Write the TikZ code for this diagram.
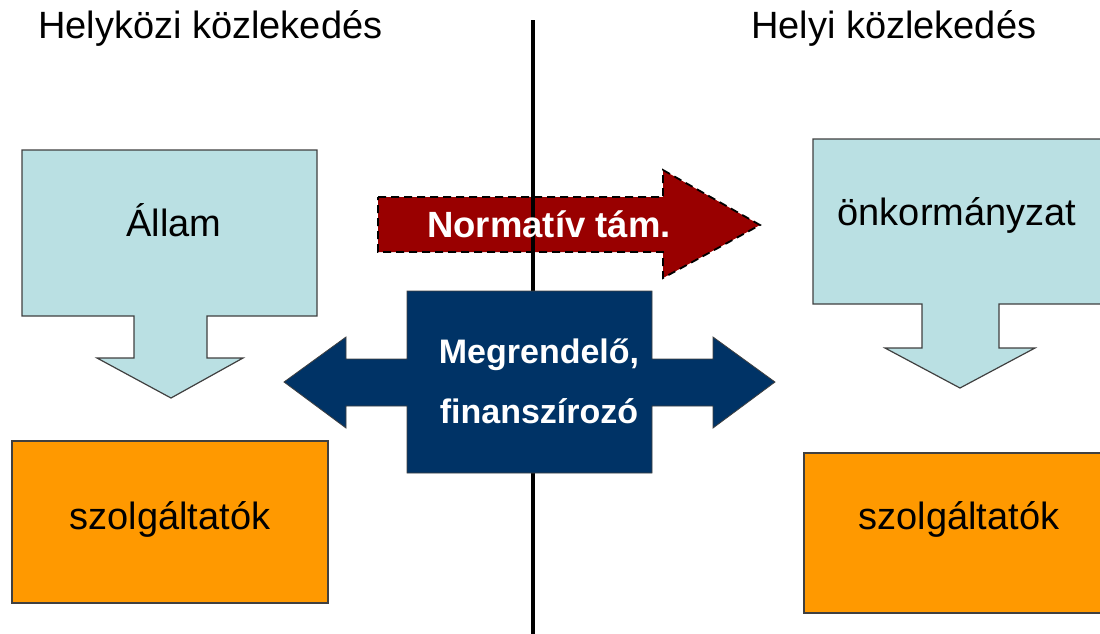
\documentclass[tikz,border=0pt]{standalone}
\usepackage{fontspec}
\setmainfont{Liberation Sans}
\definecolor{lightcyan}{RGB}{186,224,227}
\definecolor{orangebox}{RGB}{255,153,0}
\definecolor{darkred}{RGB}{153,0,0}
\definecolor{navy}{RGB}{0,51,102}
\definecolor{edgegray}{RGB}{64,64,64}
\tikzset{
  callout/.style={fill=lightcyan, draw=edgegray, line width=1.2pt},
  provbox/.style={fill=orangebox, draw=edgegray, line width=1.2pt},
  redarrow/.style={fill=darkred, draw=black, line width=1.8pt, dash pattern=on 8pt off 5pt},
  bluearrow/.style={fill=navy, draw=edgegray, line width=0.8pt},
  divider/.style={draw=black, line width=3.6pt},
  title/.style={anchor=base west, inner sep=0pt, font=\fontsize{38}{44}\selectfont},
  boxtext/.style={anchor=base, inner sep=0pt, font=\fontsize{38}{44}\selectfont},
  whitetext/.style={anchor=base, inner sep=0pt, text=white, font=\fontsize{34}{40}\selectfont\bfseries}
}
\begin{document}
\begin{tikzpicture}[x=1pt,y=-1pt]
\useasboundingbox (0,0) rectangle (1100,633);
\begin{scope}
\clip (0,0) rectangle (1100,633);
% left callout (Allam)
\draw[callout] (22,150) -- (317,150) -- (317,316) -- (207,316) -- (207,358) -- (243,358) -- (171,398) -- (97,358) -- (134,358) -- (134,316) -- (22,316) -- cycle;
% right callout (onkormanyzat)
\draw[callout] (813,139) -- (1112,139) -- (1112,304) -- (999,304) -- (999,348) -- (1035,348) -- (960,388) -- (885,348) -- (922,348) -- (922,304) -- (813,304) -- cycle;
% provider boxes
\draw[provbox] (12,441) rectangle (328,603);
\draw[provbox] (804,453) rectangle (1112,613);
% red arrow
\draw[redarrow] (378,197) -- (663,197) -- (663,170) -- (760,225) -- (663,278) -- (663,252) -- (378,252) -- cycle;
% divider line
\coordinate (lineTop) at (533,20);
\coordinate (lineBottom) at (533,640);
\draw[divider] (lineTop) -- (lineBottom);
% blue double arrow
\draw[bluearrow] (407,291) -- (652,291) -- (652,359) -- (713,359) -- (713,337) -- (775,382) -- (713,428) -- (713,406) -- (652,406) -- (652,473) -- (407,473) -- (407,406) -- (346,406) -- (346,428) -- (284,382) -- (346,337) -- (346,359) -- (407,359) -- cycle;
\end{scope}
% texts
\node[title] (tleft) at (38,38) {Helyközi közlekedés};
\node[title] (tright) at (751,38) {Helyi közlekedés};
\node[boxtext] (allam) at (174,236) {Állam};
\node[boxtext] (onk) at (957,225) {önkormányzat};
\node[boxtext] (szolgL) at (170,529) {szolgáltatók};
\node[boxtext] (szolgR) at (959,529) {szolgáltatók};
\node[whitetext, font=\fontsize{36.5}{42}\selectfont\bfseries] (norm) at (549,237) {Normatív tám.};
\node[whitetext] (meg1) at (539,363) {Megrendelő,};
\node[whitetext] (meg2) at (539,423) {finanszírozó};
\end{tikzpicture}
\end{document}
